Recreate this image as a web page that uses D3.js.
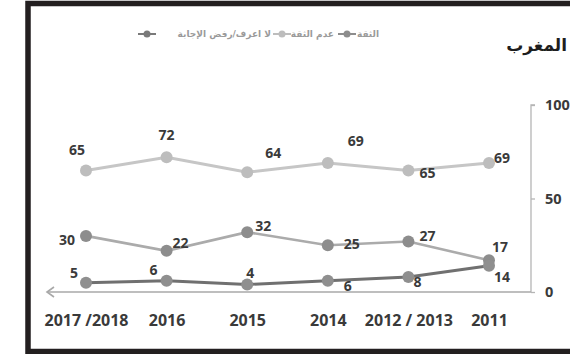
<!DOCTYPE html>
<html>
<head>
<meta charset="utf-8">
<script src="https://cdn.jsdelivr.net/npm/d3@7"></script>
<style>
  html, body { margin: 0; padding: 0; background: #fff; }
  svg { display: block; }
  .num { font-family: "Liberation Sans Narrow", "Open Sans", sans-serif; font-weight: 700; fill: #3a3a3a; }
  .ar { font-family: "DejaVu Sans", sans-serif; }
</style>
</head>
<body>
<svg id="chart" width="570" height="354"></svg>
<script>
// Survey years, newest on the left
const years = ["2017 /2018", "2016", "2015", "2014", "2012 / 2013", "2011"];
// Share of respondents (%)
const trust = [30, 22, 32, 25, 27, 17];
const distrust = [65, 72, 64, 69, 65, 69];
const dontKnow = [5, 6, 4, 6, 8, 14];
const yTicks = [0, 50, 100];
const title = "المغرب";
const seriesNames = ["الثقة", "عدم الثقة", "لا اعرف/رفض الإجابة"];

// Label offsets (dx, dy) per point so value labels avoid the lines
const offsets = {
  distrust: [[-9, -20], [0, -22], [26, -19], [28, -22], [19, 3], [13, -5]],
  trust:    [[-19, 4], [14, -8], [16, -6], [24, -1], [19, -6], [11, -13]],
  dontKnow: [[-12, -10], [-13, -11], [3, -12], [20, 5], [9, 5], [13, 11]]
};

const svg = d3.select("#chart");

const x = d3.scalePoint().domain(years).range([86, 489]);
const y = d3.scaleLinear().domain([0, 100]).range([292, 105]);

// Frame
svg.append("rect")
  .attr("x", 28).attr("y", 3.5).attr("width", 600).attr("height", 348)
  .attr("fill", "none").attr("stroke", "#231f20").attr("stroke-width", 5.5);

// Title
svg.append("text").attr("class", "ar")
  .attr("x", 567).attr("y", 51)
  .attr("text-anchor", "start")
  .attr("direction", "rtl")
  .attr("font-size", 17).attr("font-weight", 700).attr("fill", "#1e1e1e")
  .text(title);

// Right-hand value axis
const yAxis = d3.axisRight(y).tickValues(yTicks).tickSize(4).tickFormat("");
const gy = svg.append("g").attr("transform", "translate(531,0)").call(yAxis);
gy.select(".domain").attr("stroke", "#b5b5b5").attr("stroke-width", 1.3).attr("d", `M4,${y(100)}H0V${y(0)}`);
gy.selectAll(".tick line").attr("stroke", "#b5b5b5").attr("stroke-width", 1.3);

svg.selectAll(".ylab").data(yTicks).enter().append("text")
  .attr("class", "num ylab")
  .attr("x", 545).attr("y", d => y(d) + 5)
  .attr("font-size", 14.5)
  .text(d => d);

// Horizontal time axis with arrow pointing to the newest year
svg.append("path")
  .attr("d", `M531,${y(0)}H47`)
  .attr("stroke", "#a8a8a8").attr("stroke-width", 1.6).attr("fill", "none");
svg.append("path")
  .attr("d", `M54,${y(0) - 5}L47,${y(0)}L54,${y(0) + 5}`)
  .attr("stroke", "#a8a8a8").attr("stroke-width", 1.6).attr("fill", "none");

// Year labels
const xAxis = d3.axisBottom(x).tickSize(0).tickPadding(0);
const gx = svg.append("g").attr("transform", "translate(0,320)").call(xAxis);
gx.select(".domain").remove();
gx.selectAll(".tick text")
  .attr("class", "num").attr("dy", "0.35em")
  .attr("font-size", 16).attr("fill", "#3a3a3a");

const series = [
  { key: "distrust", values: distrust, line: "#c6c6c6", dot: "#bdbdbd", w: 3 },
  { key: "trust", values: trust, line: "#ababab", dot: "#8d8d8d", w: 2.6 },
  { key: "dontKnow", values: dontKnow, line: "#707070", dot: "#8f8f8f", w: 3 }
];

const line = d3.line().x((d, i) => x(years[i])).y(d => y(d));

series.forEach(s => {
  svg.append("path")
    .attr("d", line(s.values))
    .attr("fill", "none").attr("stroke", s.line).attr("stroke-width", s.w);
});
series.forEach(s => {
  svg.selectAll(".dot-" + s.key).data(s.values).enter().append("circle")
    .attr("cx", (d, i) => x(years[i])).attr("cy", d => y(d))
    .attr("r", 6).attr("fill", s.dot);
});
series.forEach(s => {
  svg.selectAll(".lab-" + s.key).data(s.values).enter().append("text")
    .attr("class", "num")
    .attr("x", (d, i) => x(years[i]) + offsets[s.key][i][0])
    .attr("y", (d, i) => y(d) + offsets[s.key][i][1] + 5)
    .attr("text-anchor", "middle")
    .attr("font-size", 14)
    .text(d => d);
});

// Legend (right to left): trust, distrust, don't know
const legend = [
  { name: seriesNames[0], color: "#8d8d8d", textX: 379, markX: 347 },
  { name: seriesNames[1], color: "#bdbdbd", textX: 334, markX: 282 },
  { name: seriesNames[2], color: "#7a7a7a", textX: 271, markX: 147 }
];
legend.forEach(l => {
  svg.append("text").attr("class", "ar")
    .attr("x", l.textX).attr("y", 37)
    .attr("text-anchor", "end")
    .attr("font-size", 9).attr("font-weight", 700).attr("fill", "#9a9a9a")
    .text(l.name);
  svg.append("line")
    .attr("x1", l.markX - 9).attr("x2", l.markX + 9)
    .attr("y1", 34).attr("y2", 34)
    .attr("stroke", l.color).attr("stroke-width", 2);
  svg.append("circle")
    .attr("cx", l.markX).attr("cy", 34).attr("r", 3.5).attr("fill", l.color);
});
</script>
</body>
</html>
